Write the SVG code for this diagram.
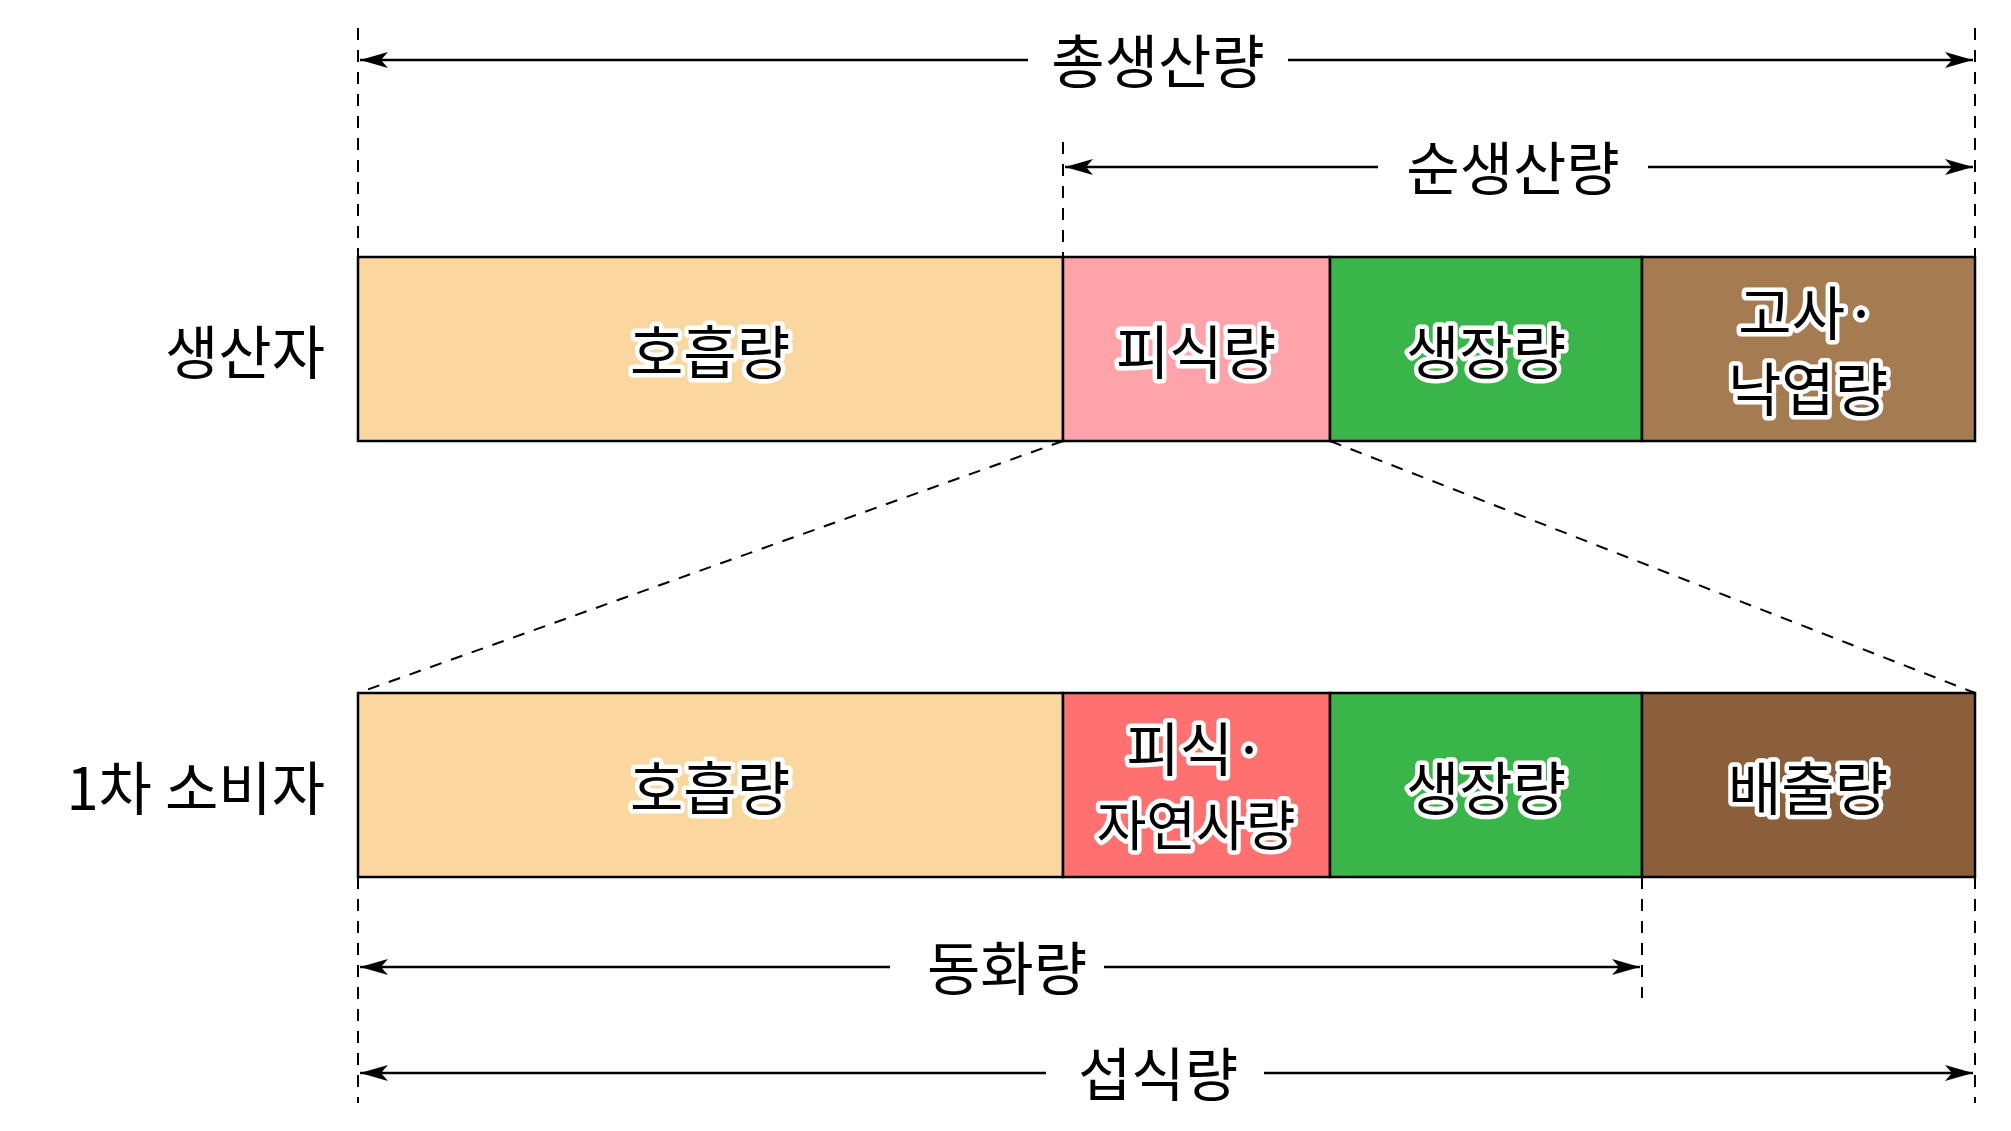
<svg xmlns="http://www.w3.org/2000/svg" width="2011" height="1131" viewBox="0 0 2011 1131">
<defs>
<style>
.t{font-family:"Noto Sans CJK KR","Noto Sans",sans-serif;font-size:58px;fill:#000;text-anchor:middle;dominant-baseline:central}
.h{font-family:"Noto Sans CJK KR","Noto Sans",sans-serif;font-size:58px;fill:#000;stroke:#fff;stroke-width:9px;stroke-linejoin:round;paint-order:stroke;text-anchor:middle;dominant-baseline:central}
.b{stroke:#000;stroke-width:2.5}
.d{stroke:#000;stroke-width:2;stroke-dasharray:12 10;fill:none}
.a{stroke:#000;stroke-width:2.5;fill:none;marker-start:url(#m);marker-end:url(#m)}
.w{fill:#fff}
</style>
<marker id="m" viewBox="0 0 28 16" refX="28" refY="8" markerWidth="28" markerHeight="16" markerUnits="userSpaceOnUse" orient="auto-start-reverse"><path d="M0,0 L28,8 L0,16 L7,8 Z" fill="#000"/></marker>
</defs>
<g id="connectors">
<path class="d" d="M358,28 V257 M1063,142 V257 M1975,28 V257 M1063,441 L358,693 M1330,441 L1975,693 M358,877 V1103 M1642,877 V998 M1975,877 V1103"/>
<line class="a" x1="360" y1="60" x2="1973" y2="60"/>
<rect class="w" x="1028" y="30" width="260" height="60"/>
<line class="a" x1="1065" y1="167" x2="1973" y2="167"/>
<rect class="w" x="1378" y="137" width="270" height="60"/>
<line class="a" x1="360" y1="967" x2="1640" y2="967"/>
<rect class="w" x="890" y="937" width="214" height="60"/>
<line class="a" x1="360" y1="1073" x2="1973" y2="1073"/>
<rect class="w" x="1046" y="1043" width="218" height="60"/>
</g>
<g id="label-total"><text class="t" x="1158" y="58">총생산량</text></g>
<g id="label-net"><text class="t" x="1513" y="165">순생산량</text></g>
<g id="label-assim"><text class="t" x="1007" y="965">동화량</text></g>
<g id="label-intake"><text class="t" x="1158" y="1071">섭식량</text></g>
<g id="label-producer"><text class="t" x="325" y="349" style="text-anchor:end">생산자</text></g>
<g id="label-consumer"><text class="t" x="325" y="785" style="text-anchor:end">1차 소비자</text></g>
<g id="p-resp"><rect class="b" x="358" y="257" width="705" height="184" fill="#FAD79E"/><text class="h" x="710" y="349">호흡량</text></g>
<g id="p-eaten"><rect class="b" x="1063" y="257" width="267" height="184" fill="#FFA3AB"/><text class="h" x="1196" y="349">피식량</text></g>
<g id="p-growth"><rect class="b" x="1330" y="257" width="312" height="184" fill="#3AB54A"/><text class="h" x="1486" y="349">생장량</text></g>
<g id="p-dead"><rect class="b" x="1642" y="257" width="333" height="184" fill="#A57C52"/><text class="h" x="1808" y="310">고사·</text><text class="h" x="1808" y="386">낙엽량</text></g>
<g id="c-resp"><rect class="b" x="358" y="693" width="705" height="184" fill="#FAD79E"/><text class="h" x="710" y="785">호흡량</text></g>
<g id="c-eaten"><rect class="b" x="1063" y="693" width="267" height="184" fill="#FF7171"/><text class="h" x="1196" y="746">피식·</text><text class="h" x="1196" y="822" style="font-size:54px">자연사량</text></g>
<g id="c-growth"><rect class="b" x="1330" y="693" width="312" height="184" fill="#3AB54A"/><text class="h" x="1486" y="785">생장량</text></g>
<g id="c-excr"><rect class="b" x="1642" y="693" width="333" height="184" fill="#8B5E3C"/><text class="h" x="1808" y="785">배출량</text></g>
</svg>
